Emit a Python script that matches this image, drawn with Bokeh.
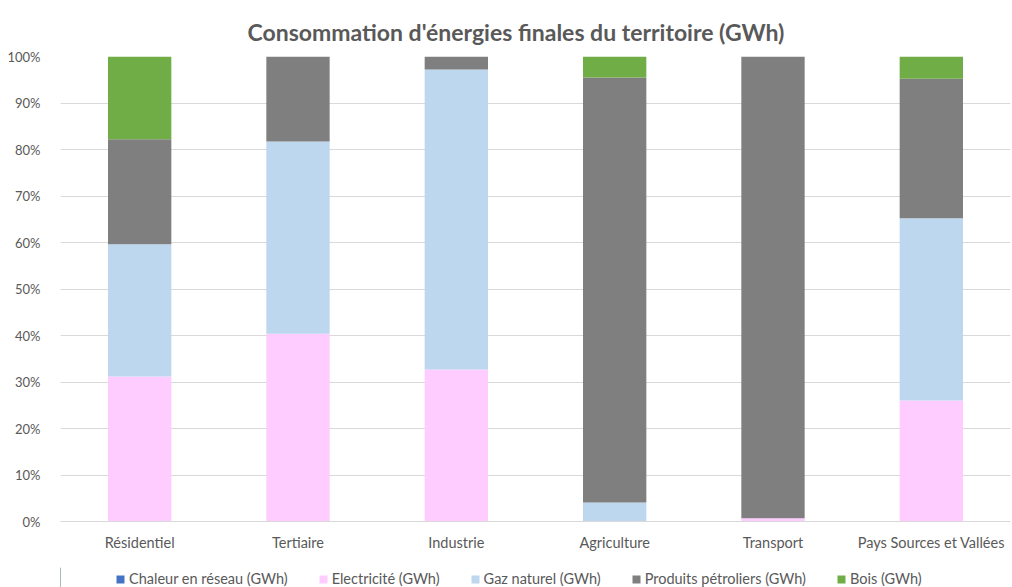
from bokeh.plotting import figure
from bokeh.layouts import column
from bokeh.models import FactorRange, FixedTicker, NumeralTickFormatter, Legend, LegendItem, Range1d
from bokeh.embed import file_html
from bokeh.resources import INLINE

categories = ["Résidentiel", "Tertiaire", "Industrie", "Agriculture", "Transport", "Pays Sources et Vallées"]
series_names = ["Chaleur en réseau (GWh)", "Electricité (GWh)", "Gaz naturel (GWh)", "Produits pétroliers (GWh)", "Bois (GWh)"]
chaleur = [0.0, 0.0, 0.0, 0.0, 0.0, 0.0]
electricite = [31.2, 40.4, 32.7, 0.0, 0.7, 26.0]
gaz = [28.4, 41.3, 64.5, 4.1, 0.0, 39.2]
petrole = [22.6, 18.3, 2.8, 91.4, 99.3, 30.0]
bois = [17.8, 0.0, 0.0, 4.5, 0.0, 4.8]
colors = ["#4472C4", "#FFCCFF", "#BDD7EE", "#7F7F7F", "#70AD47"]

raw = [chaleur, electricite, gaz, petrole, bois]
totals = [sum(r[i] for r in raw) for i in range(len(categories))]
keys = ["s0", "s1", "s2", "s3", "s4"]
data = {"cat": categories}
for k, r in zip(keys, raw):
    data[k] = [v / t for v, t in zip(r, totals)]

FONT = "Lato"
TXT = "#595959"

p = figure(x_range=FactorRange(*categories, range_padding=0), y_range=Range1d(0, 1),
           frame_width=950, frame_height=465, output_backend="svg", toolbar_location=None,
           min_border_left=60, min_border_right=2, min_border_top=56, min_border_bottom=46)

renderers = p.vbar_stack(keys, x="cat", width=0.4, color=colors, line_color=None, source=data)

p.title.text = "Consommation  d'énergies finales du territoire (GWh)"
p.title.align = "left"
p.title.offset = 187
p.title.text_font = FONT
p.title.text_font_size = "23px"
p.title.text_font_style = "bold"
p.title.text_color = TXT
p.title.standoff = 22

p.yaxis.ticker = FixedTicker(ticks=[i / 10 for i in range(11)])
p.yaxis.formatter = NumeralTickFormatter(format="0%")
p.yaxis.axis_line_color = None
p.yaxis.major_tick_line_color = None
p.yaxis.minor_tick_line_color = None
p.yaxis.major_label_standoff = 14
p.yaxis.major_label_text_font_size = "13px"
p.xaxis.axis_line_color = "#D9D9D9"
p.xaxis.major_tick_line_color = None
p.xaxis.minor_tick_line_color = None
p.xaxis.major_label_standoff = 6
p.xaxis.major_label_text_font_size = "14.5px"
for ax in (p.xaxis, p.yaxis):
    ax.major_label_text_font = FONT
    ax.major_label_text_color = TXT

p.xgrid.grid_line_color = None
p.ygrid.grid_line_color = "#D9D9D9"
p.outline_line_color = None

# Legend strip below the chart (same series colours; the dummy bars sit outside the visible range)
pl = figure(frame_width=950, frame_height=20, x_range=Range1d(0, 1), y_range=Range1d(0, 1),
            x_axis_location=None, y_axis_location=None,
            output_backend="svg", toolbar_location=None,
            min_border_left=60, min_border_right=2, min_border_top=0, min_border_bottom=0)
pl.grid.visible = False
pl.outline_line_color = None
leg_renderers = [pl.vbar(x=[-5], top=[1], bottom=[0], width=0.1, color=c, line_color=None) for c in colors]
legend = Legend(items=[LegendItem(label=n, renderers=[r], index=0) for n, r in zip(series_names, leg_renderers)],
                orientation="horizontal", location=(55, 0), spacing=30,
                glyph_width=10, glyph_height=10, label_standoff=4,
                label_text_font=FONT, label_text_font_size="14.5px", label_text_color=TXT,
                border_line_color=None, background_fill_alpha=0, padding=0, margin=0, label_height=12)
pl.add_layout(legend, "center")

layout = column(p, pl, spacing=0)
open("out.html", "w").write(file_html(layout, INLINE))
